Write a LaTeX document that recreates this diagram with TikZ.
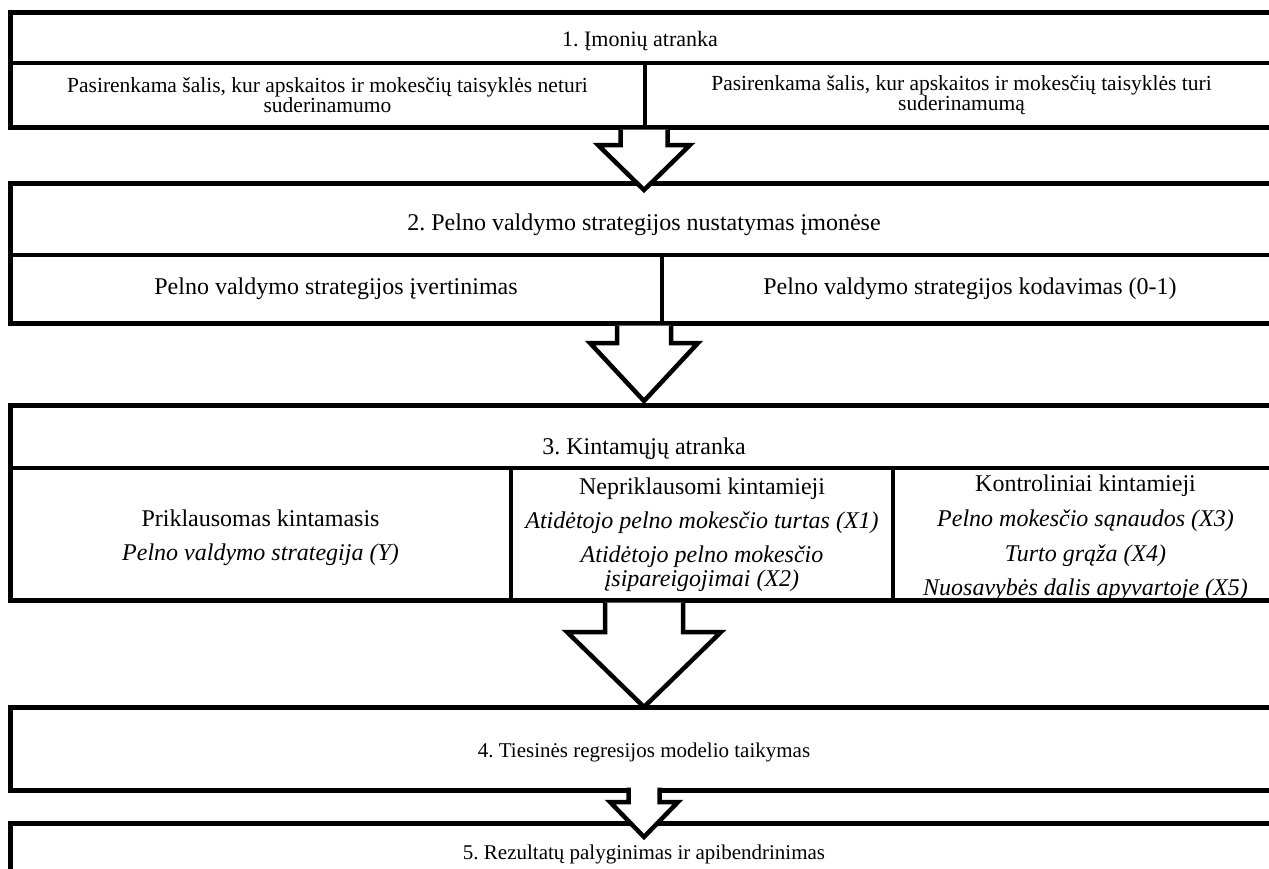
\documentclass[tikz,border=0pt]{standalone}
\usepackage{fontspec}
\setmainfont{Liberation Serif}
\usetikzlibrary{calc}
\frenchspacing

\begin{document}
\begin{tikzpicture}[x=1pt, y=-1pt,
    outerbox/.style={draw, line width=5pt, inner sep=0pt, outer sep=0pt},
    subbox/.style={draw, line width=3.5pt, inner sep=0pt, outer sep=0pt, align=center},
    coltext/.style={inner sep=0pt, align=center},
    steptitle/.style={inner sep=0pt, anchor=base},
    blockarrow/.style={draw, fill=white, line width=4.5pt}]
    \useasboundingbox (0,0) rectangle (1269,868);
    \clip (0,0) rectangle (1269,868);

    % 1. Imoniu atranka
    \node[outerbox, minimum width=1268pt, minimum height=115pt] (box1) at (644,69.5) {};
    \node[subbox, minimum width=635pt, minimum height=64pt, font=\fontsize{21.5}{20.5}\selectfont] (sel-a) at (327.5,95)
        {Pasirenkama šalis, kur apskaitos ir mokesčių taisyklės neturi\\suderinamumo};
    \node[subbox, minimum width=633pt, minimum height=64pt, font=\fontsize{21.5}{20.5}\selectfont] (sel-b) at (961.5,95)
        {Pasirenkama šalis, kur apskaitos ir mokesčių taisyklės turi\\suderinamumą};
    \node[steptitle, font=\fontsize{22}{26}\selectfont] (title1) at (640,46) {1. Įmonių atranka};

    % 2. Strategijos nustatymas
    \node[outerbox, minimum width=1268pt, minimum height=140pt] (box2) at (644,253) {};
    \node[subbox, minimum width=652pt, minimum height=68pt, font=\fontsize{24}{28}\selectfont] (eval) at (336,289)
        {Pelno valdymo strategijos įvertinimas};
    \node[subbox, minimum width=616pt, minimum height=68pt, font=\fontsize{24}{28}\selectfont] (code) at (970,289)
        {Pelno valdymo strategijos kodavimas (0-1)};
    \node[steptitle, font=\fontsize{24}{28}\selectfont] (title2) at (644,230) {2. Pelno valdymo strategijos nustatymas įmonėse};

    % 3. Kintamuju atranka
    \node[outerbox, minimum width=1268pt, minimum height=195pt] (box3) at (644,502.5) {};
    \node[subbox, minimum width=501pt, minimum height=132pt] (dep) at (260.5,534) {};
    \node[subbox, minimum width=382pt, minimum height=132pt] (indep) at (702,534) {};
    \node[subbox, minimum width=385pt, minimum height=132pt] (ctrl) at (1085.5,534) {};
    \node[coltext, font=\fontsize{24}{34}\selectfont] (dep-t) at ($(dep.center)+(0,4)$)
        {Priklausomas kintamasis\\\textit{Pelno valdymo strategija (Y)}};
    \node[coltext, font=\fontsize{24}{34}\selectfont] (indep-t) at ($(indep.center)+(0,1)$)
        {Nepriklausomi kintamieji\\\textit{Atidėtojo pelno mokesčio turtas (X1)}\\\textit{Atidėtojo pelno mokesčio}\\[-10pt]\textit{įsipareigojimai (X2)}};
    \node[coltext, font=\fontsize{24}{34.7}\selectfont] (ctrl-t) at ($(ctrl.center)+(0,4)$)
        {Kontroliniai kintamieji\\\textit{Pelno mokesčio sąnaudos (X3)}\\\textit{Turto grąža (X4)}\\\textit{Nuosavybės dalis apyvartoje (X5)}};
    \node[steptitle, font=\fontsize{24}{28}\selectfont] (title3) at (644,454) {3. Kintamųjų atranka};

    % 4. and 5.
    \node[outerbox, minimum width=1268pt, minimum height=83pt] (box4) at (644,748.5) {};
    \node[coltext, font=\fontsize{21}{25}\selectfont] (box4-t) at ($(box4.center)+(0,4)$) {4. Tiesinės regresijos modelio taikymas};
    \node[outerbox, minimum width=1268pt, minimum height=62pt, font=\fontsize{21}{25}\selectfont] (box5) at (644,854)
        {5. Rezultatų palyginimas ir apibendrinimas};

    % Arrows
    \draw[blockarrow] ($(box1.south)+(-23.5,2.5)$) -- ($(box1.south)+(-23.5,18)$) -- ($(box1.south)+(-46,18)$)
        -- ($(box2.north)+(0,7)$) -- ($(box1.south)+(46,18)$) -- ($(box1.south)+(23.5,18)$) -- ($(box1.south)+(23.5,2.5)$);
    \draw[blockarrow] ($(box2.south)+(-27,2.5)$) -- ($(box2.south)+(-27,20)$) -- ($(box2.south)+(-54,20)$)
        -- ($(box3.north)+(0,-4)$) -- ($(box2.south)+(54,20)$) -- ($(box2.south)+(27,20)$) -- ($(box2.south)+(27,2.5)$);
    \draw[blockarrow] ($(box3.south)+(-39,2.5)$) -- ($(box3.south)+(-39,32)$) -- ($(box3.south)+(-77,32)$)
        -- (box4.north) -- ($(box3.south)+(77,32)$) -- ($(box3.south)+(39,32)$) -- ($(box3.south)+(39,2.5)$);
    \draw[blockarrow] ($(box4.south)+(-15.5,-2.5)$) -- ($(box4.south)+(-15.5,12)$) -- ($(box4.south)+(-34,12)$)
        -- ($(box5.north)+(0,14)$) -- ($(box4.south)+(34,12)$) -- ($(box4.south)+(15.5,12)$) -- ($(box4.south)+(15.5,-2.5)$);
\end{tikzpicture}
\end{document}
